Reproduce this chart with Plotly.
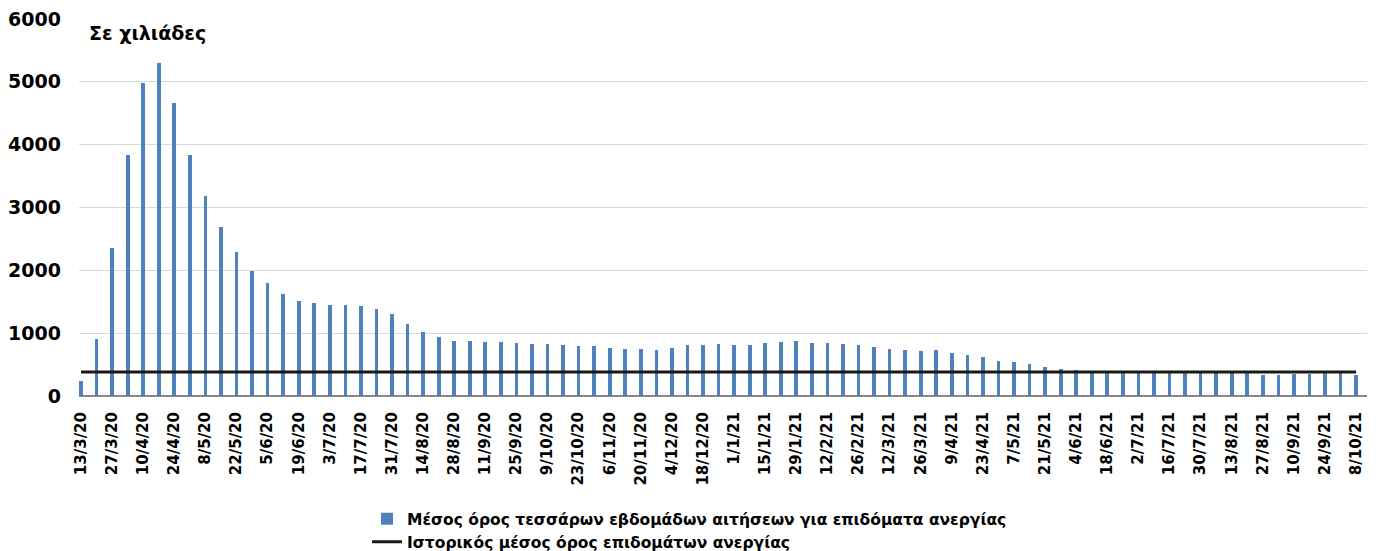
import plotly.graph_objects as go

dates = [
    "13/3/20", "20/3/20", "27/3/20", "3/4/20", "10/4/20", "17/4/20", "24/4/20", "1/5/20",
    "8/5/20", "15/5/20", "22/5/20", "29/5/20", "5/6/20", "12/6/20", "19/6/20", "26/6/20",
    "3/7/20", "10/7/20", "17/7/20", "24/7/20", "31/7/20", "7/8/20", "14/8/20", "21/8/20",
    "28/8/20", "4/9/20", "11/9/20", "18/9/20", "25/9/20", "2/10/20", "9/10/20", "16/10/20",
    "23/10/20", "30/10/20", "6/11/20", "13/11/20", "20/11/20", "27/11/20", "4/12/20", "11/12/20",
    "18/12/20", "25/12/20", "1/1/21", "8/1/21", "15/1/21", "22/1/21", "29/1/21", "5/2/21",
    "12/2/21", "19/2/21", "26/2/21", "5/3/21", "12/3/21", "19/3/21", "26/3/21", "2/4/21",
    "9/4/21", "16/4/21", "23/4/21", "30/4/21", "7/5/21", "14/5/21", "21/5/21", "28/5/21",
    "4/6/21", "11/6/21", "18/6/21", "25/6/21", "2/7/21", "9/7/21", "16/7/21", "23/7/21",
    "30/7/21", "6/8/21", "13/8/21", "20/8/21", "27/8/21", "3/9/21", "10/9/21", "17/9/21",
    "24/9/21", "1/10/21", "8/10/21",
]

claims_4wk_avg = [
    234, 903, 2348, 3830, 4983, 5302, 4670, 3830,
    3187, 2683, 2284, 1992, 1796, 1626, 1519, 1488,
    1445, 1456, 1429, 1392, 1302, 1153, 1025, 935,
    883, 879, 863, 863, 847, 821, 821, 805,
    789, 789, 758, 742, 742, 726, 758, 805,
    805, 821, 805, 805, 837, 853, 868, 847,
    847, 821, 805, 774, 743, 728, 712, 728,
    686, 654, 623, 560, 534, 502, 455, 429,
    413, 398, 395, 392, 390, 388, 386, 385,
    383, 382, 380, 378, 340, 340, 345, 345,
    372, 370, 340,
]

historical_avg = [383] * len(dates)

tick_labels = dates[::2]

name_bar = "Μέσος όρος τεσσάρων εβδομάδων αιτήσεων για επιδόματα ανεργίας"
name_line = "Ιστορικός μέσος όρος επιδομάτων ανεργίας"
unit_note = "Σε χιλιάδες"

FONT = "DejaVu Sans, Liberation Sans, Arial, sans-serif"

fig = go.Figure()
fig.add_trace(go.Bar(
    x=dates, y=claims_4wk_avg, name=name_bar,
    marker=dict(color="#4f81bd", line=dict(width=0)),
    width=0.24,
))
fig.add_trace(go.Scatter(
    x=dates, y=historical_avg, name=name_line, mode="lines",
    line=dict(color="#1a1a12", width=3),
))

fig.update_layout(
    width=1368, height=543,
    margin=dict(l=71, r=9, t=11, b=155),
    paper_bgcolor="white", plot_bgcolor="white",
    font=dict(family=FONT, color="black", size=15),
    showlegend=True,
    legend=dict(
        orientation="v", x=0.2236, xanchor="left",
        yref="container", y=0.09, yanchor="top",
        font=dict(family=FONT, size=15.5, color="black", weight="bold"),
        itemwidth=30, tracegroupgap=0, bgcolor="rgba(0,0,0,0)",
    ),
    bargap=0,
)
fig.update_xaxes(
    type="category", categoryorder="array", categoryarray=dates,
    range=[-0.13, 82.7],
    tickmode="array", tickvals=tick_labels, ticktext=tick_labels,
    tickangle=-90, tickfont=dict(family=FONT, size=15, weight="bold"),
    showgrid=False, showline=False, ticks="", zeroline=False,
    automargin=False, ticklabelstandoff=12, ticklabeloverflow="allow",
)
fig.update_yaxes(
    range=[0, 6000], tickvals=[0, 1000, 2000, 3000, 4000, 5000, 6000],
    tickfont=dict(family=FONT, size=19, weight="bold"),
    showgrid=True, gridcolor="#d9d9d9", gridwidth=1,
    zeroline=True, zerolinecolor="#868686", zerolinewidth=2,
    showline=False, ticks="", ticklabelstandoff=17,
    automargin=False, ticklabeloverflow="allow",
)
fig.add_annotation(
    text=unit_note, xref="paper", yref="paper", x=0.006, y=0.964,
    xanchor="left", yanchor="middle", showarrow=False,
    font=dict(family=FONT, size=19, weight="bold", color="black"),
)

fig.write_html("out.html")
